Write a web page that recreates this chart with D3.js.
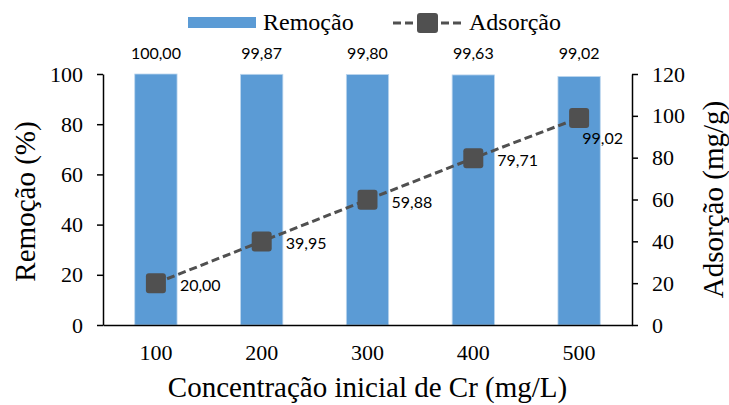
<!DOCTYPE html>
<html>
<head>
<meta charset="utf-8">
<script src="https://cdn.jsdelivr.net/npm/d3@7"></script>
<style>
  body { margin: 0; background: #fff; }
  svg { display: block; }
</style>
</head>
<body>
<svg id="chart" width="729" height="405"></svg>
<script>
const categories = ['100', '200', '300', '400', '500'];
const remocao = [100.00, 99.87, 99.80, 99.63, 99.02];
const adsorcao = [20.00, 39.95, 59.88, 79.71, 99.02];
const leftTicks = [0, 20, 40, 60, 80, 100];
const rightTicks = [0, 20, 40, 60, 80, 100, 120];

const fmt = v => v.toFixed(2).replace('.', ',');

const svg = d3.select('#chart');
const margin = { top: 74, right: 97, bottom: 80, left: 103 };
const width = 729 - margin.left - margin.right;
const height = 405 - margin.top - margin.bottom;

const serif = '"Liberation Serif", "Times New Roman", serif';
const sans = 'Lato, "Open Sans", sans-serif';

const x = d3.scaleBand().domain(categories).range([0, width]).paddingInner(0.6).paddingOuter(0.3);
const yL = d3.scaleLinear().domain([0, 100]).range([height, 0]);
const yR = d3.scaleLinear().domain([0, 120]).range([height, 0]);
const cx = i => x(categories[i]) + x.bandwidth() / 2;

const g = svg.append('g').attr('transform', `translate(${margin.left},${margin.top})`);

// bars
g.selectAll('rect.bar')
  .data(remocao)
  .enter()
  .append('rect')
  .attr('class', 'bar')
  .attr('x', (d, i) => x(categories[i]))
  .attr('y', d => yL(d))
  .attr('width', x.bandwidth())
  .attr('height', d => height - yL(d))
  .attr('fill', '#5B9BD5')
  .attr('stroke', '#bcd6ee')
  .attr('stroke-width', 0.8);

g.selectAll('text.bar-label')
  .data(remocao)
  .enter()
  .append('text')
  .attr('class', 'bar-label')
  .attr('x', (d, i) => cx(i))
  .attr('y', -15)
  .attr('text-anchor', 'middle')
  .style('font-family', sans)
  .style('font-size', '16px')
  .attr('fill', '#000')
  .text(fmt);

// axes
const axisL = g.append('g')
  .call(d3.axisLeft(yL).tickValues(leftTicks).tickSize(6).tickPadding(14).tickSizeOuter(0).tickFormat(d3.format('d')));
const axisR = g.append('g')
  .attr('transform', `translate(${width},0)`)
  .call(d3.axisRight(yR).tickValues(rightTicks).tickSize(6).tickPadding(14).tickSizeOuter(0).tickFormat(d3.format('d')));
const axisB = g.append('g')
  .attr('transform', `translate(0,${height})`)
  .call(d3.axisBottom(x).tickSize(0).tickPadding(19).tickSizeOuter(0));

[axisL, axisR, axisB].forEach(a => {
  a.attr('font-family', null).attr('font-size', null);
  a.select('.domain').attr('stroke', '#000').attr('stroke-width', 1.5);
  a.selectAll('.tick line').attr('stroke', '#000').attr('stroke-width', 1.5);
  a.selectAll('.tick text')
    .style('font-family', serif)
    .style('font-size', '22px')
    .attr('fill', '#000');
});

// line series
const line = d3.line()
  .x((d, i) => cx(i))
  .y(d => yR(d));

g.append('path')
  .datum(adsorcao)
  .attr('d', line)
  .attr('fill', 'none')
  .attr('stroke', '#505050')
  .attr('stroke-width', 3)
  .attr('stroke-dasharray', '8,4');

g.selectAll('rect.marker')
  .data(adsorcao)
  .enter()
  .append('rect')
  .attr('class', 'marker')
  .attr('x', (d, i) => cx(i) - 10)
  .attr('y', d => yR(d) - 10)
  .attr('width', 20)
  .attr('height', 20)
  .attr('rx', 3)
  .attr('fill', '#505050');

// labels to the right of markers; the last one would overflow, so it drops below
const labelW = 42;
g.selectAll('text.line-label')
  .data(adsorcao)
  .enter()
  .append('text')
  .attr('class', 'line-label')
  .each(function (d, i) {
    const overflow = cx(i) + 24 + labelW > width;
    d3.select(this)
      .attr('x', overflow ? width - 9 : cx(i) + 24)
      .attr('y', yR(d) + (overflow ? 26 : 8))
      .attr('text-anchor', overflow ? 'end' : 'start');
  })
  .style('font-family', sans)
  .style('font-size', '16px')
  .attr('fill', '#000')
  .text(fmt);

// axis titles
svg.append('text')
  .attr('transform', `translate(35,${margin.top + height / 2 + 2}) rotate(-90)`)
  .attr('text-anchor', 'middle')
  .style('font-family', serif)
  .style('font-size', '29px')
  .text('Remoção (%)');

svg.append('text')
  .attr('transform', `translate(723,${margin.top + height / 2}) rotate(-90)`)
  .attr('text-anchor', 'middle')
  .style('font-family', serif)
  .style('font-size', '29px')
  .text('Adsorção (mg/g)');

svg.append('text')
  .attr('x', margin.left + width / 2)
  .attr('y', 397)
  .attr('text-anchor', 'middle')
  .style('font-family', serif)
  .style('font-size', '29px')
  .text('Concentração inicial de Cr (mg/L)');

// legend
const legend = svg.append('g');
legend.append('rect')
  .attr('x', 188).attr('y', 17).attr('width', 68).attr('height', 11)
  .attr('fill', '#5B9BD5');
legend.append('text')
  .attr('x', 263).attr('y', 30)
  .style('font-family', serif).style('font-size', '24px')
  .text('Remoção');
legend.append('line')
  .attr('x1', 393).attr('x2', 463).attr('y1', 23).attr('y2', 23)
  .attr('stroke', '#505050').attr('stroke-width', 3).attr('stroke-dasharray', '8,4');
legend.append('rect')
  .attr('x', 417).attr('y', 13).attr('width', 21).attr('height', 20).attr('rx', 3)
  .attr('fill', '#505050');
legend.append('text')
  .attr('x', 469).attr('y', 30)
  .style('font-family', serif).style('font-size', '24px')
  .text('Adsorção');
</script>
</body>
</html>
